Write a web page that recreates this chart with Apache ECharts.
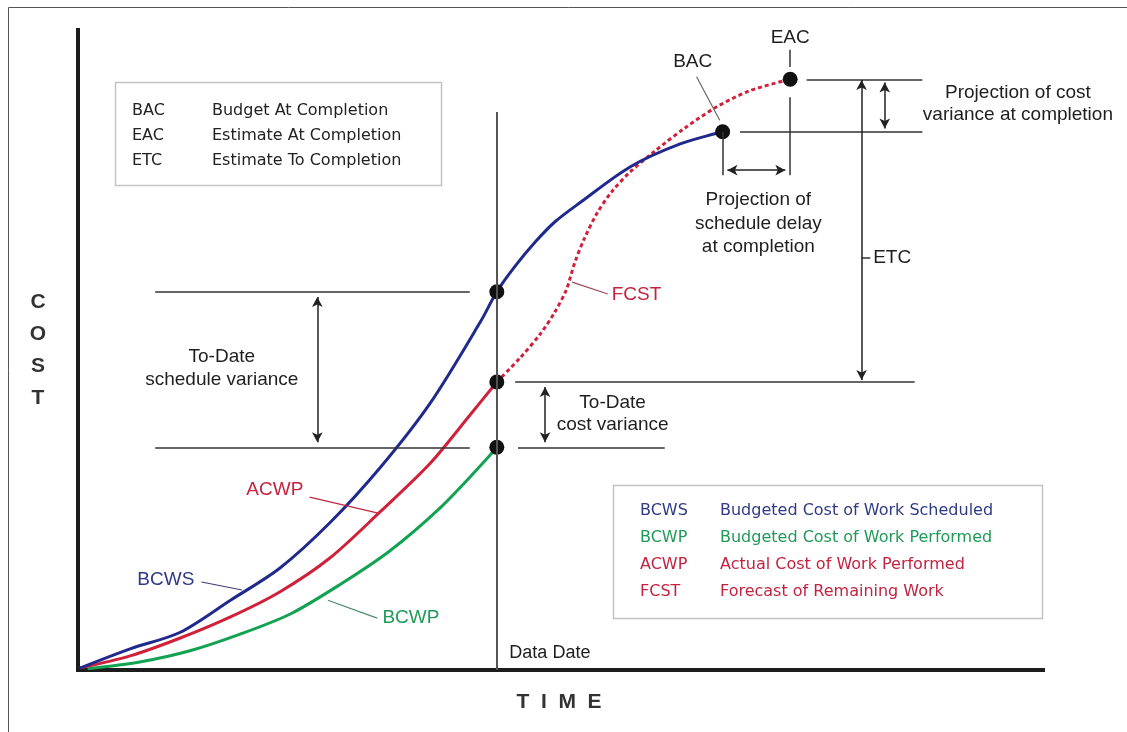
<!DOCTYPE html>
<html>
<head>
<meta charset="utf-8">
<script src="https://cdn.jsdelivr.net/npm/echarts@6/dist/echarts.min.js"></script>
<style>
html,body{margin:0;padding:0;background:#fff;}
#chart{width:1127px;height:732px;}
</style>
</head>
<body>
<div id="chart"></div>
<script>
// ---- Data (time 0..100, cost 0..100) ----
const bcwsT = [0.2, 5.4, 10.6, 15.8, 20.9, 26.1, 31.3, 36.5, 41.7, 43.4, 45.3, 47.4, 49.4, 52.0, 57.2, 62.4, 66.8];
const bcwsC = [0.3, 3.3, 5.9, 10.9, 15.9, 23.0, 31.6, 41.7, 54.4, 59.1, 63.1, 66.9, 70.0, 73.0, 78.6, 82.2, 84.1];
const acwpT = [0.2, 5.4, 10.6, 15.8, 20.9, 26.1, 31.3, 36.5, 40.6, 43.4];
const acwpC = [0.3, 2.2, 5.0, 8.3, 12.2, 17.5, 24.7, 32.3, 39.8, 45.0];
const bcwpT = [1.0, 6.4, 11.6, 16.8, 22.0, 27.2, 32.3, 37.5, 41.7, 43.4];
const bcwpC = [0.2, 1.25, 3.0, 5.6, 8.75, 13.4, 18.6, 25.3, 31.9, 34.8];
const fcstT = [43.4, 45.8, 47.9, 49.4, 50.6, 51.5, 52.5, 53.8, 55.3, 57.2, 59.8, 62.9, 66.2, 69.6, 73.8];
const fcstC = [45.0, 48.75, 52.5, 55.9, 59.4, 63.75, 67.5, 71.4, 74.7, 77.8, 81.1, 84.7, 88.0, 90.5, 92.3];

const legend1Abbr = ['BAC', 'EAC', 'ETC'];
const legend1Desc = ['Budget At Completion', 'Estimate At Completion', 'Estimate To Completion'];
const legend2Abbr = ['BCWS', 'BCWP', 'ACWP', 'FCST'];
const legend2Desc = ['Budgeted Cost of Work Scheduled', 'Budgeted Cost of Work Performed', 'Actual Cost of Work Performed', 'Forecast of Remaining Work'];

// ---- Derived key values ----
const pairs = (t, c) => t.map((v, i) => [v, c[i]]);
const last = a => a[a.length - 1];
const dataDate = last(acwpT);
const iDate = bcwsT.indexOf(dataDate);
const bcwsAtDate = bcwsC[iDate];
const acwpAtDate = last(acwpC);
const bcwpAtDate = last(bcwpC);
const bac = [last(bcwsT), last(bcwsC)];
const eac = [last(fcstT), last(fcstC)];

const BLUE = '#1f2a8c', RED = '#d0213b', GREEN = '#12a251';
const TXT_BLUE = '#2f3a86', TXT_GREEN = '#1f9a58', TXT_RED = '#c4233f';
const FONT = "'Liberation Sans', Arial, sans-serif";
const LFONT = "16px 'DejaVu Sans'";

const seg = (a, b) => [{coord: a}, {coord: b}];

// plain annotation lines
const plainLines = [
  seg([8.0, bcwsAtDate], [40.6, bcwsAtDate]),
  seg([8.0, bcwpAtDate], [40.6, bcwpAtDate]),
  seg([45.3, acwpAtDate], [86.7, acwpAtDate]),
  seg([45.6, bcwpAtDate], [60.8, bcwpAtDate]),
  seg([75.5, eac[1]], [87.5, eac[1]]),
  seg([68.6, bac[1]], [87.5, bac[1]]),
  seg([bac[0], bac[1]], [bac[0], 77.3]),
  seg([eac[0], 89.5], [eac[0], 77.3]),
  seg([eac[0], 96.9], [eac[0], 94.2]),
  seg([81.2, 64.4], [82.1, 64.4])
];
const arrowLines = [
  seg([24.8, bcwsAtDate - 0.8], [24.8, bcwpAtDate + 0.8]),
  seg([48.4, acwpAtDate - 0.8], [48.4, bcwpAtDate + 0.8]),
  seg([81.2, acwpAtDate + 0.3], [81.2, eac[1] - 0.1]),
  seg([83.6, eac[1] - 0.5], [83.6, bac[1] + 0.5]),
  seg([bac[0] + 0.5, 78.1], [eac[0] - 0.5, 78.1])
];
const pointers = [
  {c: '#666', s: seg([64.1, 92.7], [66.5, 85.9])},
  {c: '#9a4a5a', s: seg([51.2, 60.6], [54.9, 58.75])},
  {c: '#c0283f', s: seg([24.0, 27.0], [31.1, 24.5])},
  {c: '#3a3f78', s: seg([12.8, 13.75], [17.0, 12.5])},
  {c: '#4a8a68', s: seg([25.9, 10.9], [31.0, 8.1])}
];

const lbl = (name, t, c, opt) => ({name: name, value: [t, c], label: Object.assign({
  show: true, position: [0, 0], align: 'center', verticalAlign: 'middle',
  fontFamily: FONT, fontSize: 19, color: '#1e1e1e', opacity: 1, formatter: '{b}'
}, opt || {})});

const labels = [
  lbl('To-Date\nschedule variance', 14.9, 47.1, {lineHeight: 23}),
  lbl('To-Date\ncost variance', 55.4, 40.0, {lineHeight: 22}),
  lbl('Projection of\nschedule delay\nat completion', 70.5, 69.8, {lineHeight: 23.5}),
  lbl('Projection of cost\nvariance at completion', 97.4, 88.4, {lineHeight: 22}),
  lbl('ETC', 82.4, 64.4, {align: 'left'}),
  lbl('EAC', eac[0], 98.75),
  lbl('BAC', 63.7, 95.0),
  lbl('FCST', 55.3, 58.6, {align: 'left', color: TXT_RED}),
  lbl('ACWP', 20.4, 28.1, {color: TXT_RED}),
  lbl('BCWS', 9.1, 14.1, {color: TXT_BLUE}),
  lbl('BCWP', 34.5, 8.1, {color: TXT_GREEN}),
  lbl('Data Date', 44.7, 2.7, {align: 'left', fontSize: 18})
];

// ---- graphic (frame, legends, axis titles) ----
const graphic = [
  {type: 'rect', shape: {x: 8.5, y: 7.5, width: 1200, height: 800}, style: {fill: 'none', stroke: '#555', lineWidth: 1}, z: 0},
  {type: 'rect', shape: {x: 115.5, y: 82.5, width: 326, height: 103}, style: {fill: '#fff', stroke: '#c4c4c4', lineWidth: 1.5}, z: 5},
  {type: 'rect', shape: {x: 613.5, y: 485.5, width: 429, height: 133}, style: {fill: '#fff', stroke: '#c4c4c4', lineWidth: 1.5}, z: 5},
  {type: 'text', x: 38, y: 350, style: {text: 'C\nO\nS\nT', font: "bold 21px " + FONT, fill: '#333', align: 'center', verticalAlign: 'middle', lineHeight: 32}, z: 6},
  {type: 'text', x: 559, y: 702, style: {text: 'T  I  M  E', font: "bold 21px " + FONT, fill: '#333', align: 'center', verticalAlign: 'middle'}, z: 6}
];
legend1Abbr.forEach((a, i) => {
  graphic.push({type: 'text', x: 132, y: 111 + i * 25, style: {text: a, font: LFONT, fill: '#222', align: 'left', verticalAlign: 'middle'}, z: 6});
  graphic.push({type: 'text', x: 212, y: 111 + i * 25, style: {text: legend1Desc[i], font: LFONT, fill: '#222', align: 'left', verticalAlign: 'middle'}, z: 6});
});
const legend2Color = [TXT_BLUE, TXT_GREEN, TXT_RED, TXT_RED];
legend2Abbr.forEach((a, i) => {
  graphic.push({type: 'text', x: 640, y: 511 + i * 27, style: {text: a, font: LFONT, fill: legend2Color[i], align: 'left', verticalAlign: 'middle'}, z: 6});
  graphic.push({type: 'text', x: 720, y: 511 + i * 27, style: {text: legend2Desc[i], font: LFONT, fill: legend2Color[i], align: 'left', verticalAlign: 'middle'}, z: 6});
});

const axisCommon = {
  type: 'value', min: 0, max: 100,
  axisLine: {show: true, onZero: false, lineStyle: {color: '#1c1c1c', width: 4, cap: 'square'}},
  axisTick: {show: false}, axisLabel: {show: false}, splitLine: {show: false}
};

const chart = echarts.init(document.getElementById('chart'), null, {renderer: 'canvas'});
chart.setOption({
  backgroundColor: '#fff',
  animation: false,
  grid: {left: 78, right: 84, top: 30, bottom: 62},
  xAxis: axisCommon,
  yAxis: axisCommon,
  graphic: graphic,
  series: [
    {type: 'line', data: [], silent: true, z: 2,
      markLine: {silent: true, symbol: ['none', 'none'], label: {show: false},
        lineStyle: {color: '#333', width: 1.5, type: 'solid'}, data: plainLines}},
    {type: 'line', data: [], silent: true, z: 2,
      markLine: {silent: true, symbol: ['none', 'none'], label: {show: false},
        lineStyle: {color: '#555', width: 2, type: 'solid'}, data: [seg([dataDate, 0], [dataDate, 87.2])]}},
    {type: 'line', data: [], silent: true, z: 2,
      markLine: {silent: true, symbol: ['arrow', 'arrow'], symbolSize: [8, 10], label: {show: false},
        lineStyle: {color: '#222', width: 1.5, type: 'solid'}, data: arrowLines}},
    ...pointers.map(p => ({type: 'line', data: [], silent: true, z: 2,
      markLine: {silent: true, symbol: ['none', 'none'], label: {show: false},
        lineStyle: {color: p.c, width: 1.2, type: 'solid'}, data: [p.s]}})),
    {name: 'FCST', type: 'line', data: pairs(fcstT, fcstC), smooth: 0.3, showSymbol: false, z: 3,
      lineStyle: {color: RED, width: 3, type: [4, 3]}},
    {name: 'BCWP', type: 'line', data: pairs(bcwpT, bcwpC), smooth: 0.3, showSymbol: false, z: 3,
      lineStyle: {color: GREEN, width: 3}},
    {name: 'ACWP', type: 'line', data: pairs(acwpT, acwpC), smooth: 0.3, showSymbol: false, z: 3,
      lineStyle: {color: RED, width: 3}},
    {name: 'BCWS', type: 'line', data: pairs(bcwsT, bcwsC), smooth: 0.3, showSymbol: false, z: 3,
      lineStyle: {color: BLUE, width: 3}},
    {type: 'scatter', z: 4, symbolSize: 15, itemStyle: {color: '#111', opacity: 1},
      data: [[dataDate, bcwsAtDate], [dataDate, acwpAtDate], [dataDate, bcwpAtDate], bac, eac]},
    {type: 'scatter', z: 4, symbolSize: 0, itemStyle: {opacity: 1}, data: labels}
  ]
});
</script>
</body>
</html>
